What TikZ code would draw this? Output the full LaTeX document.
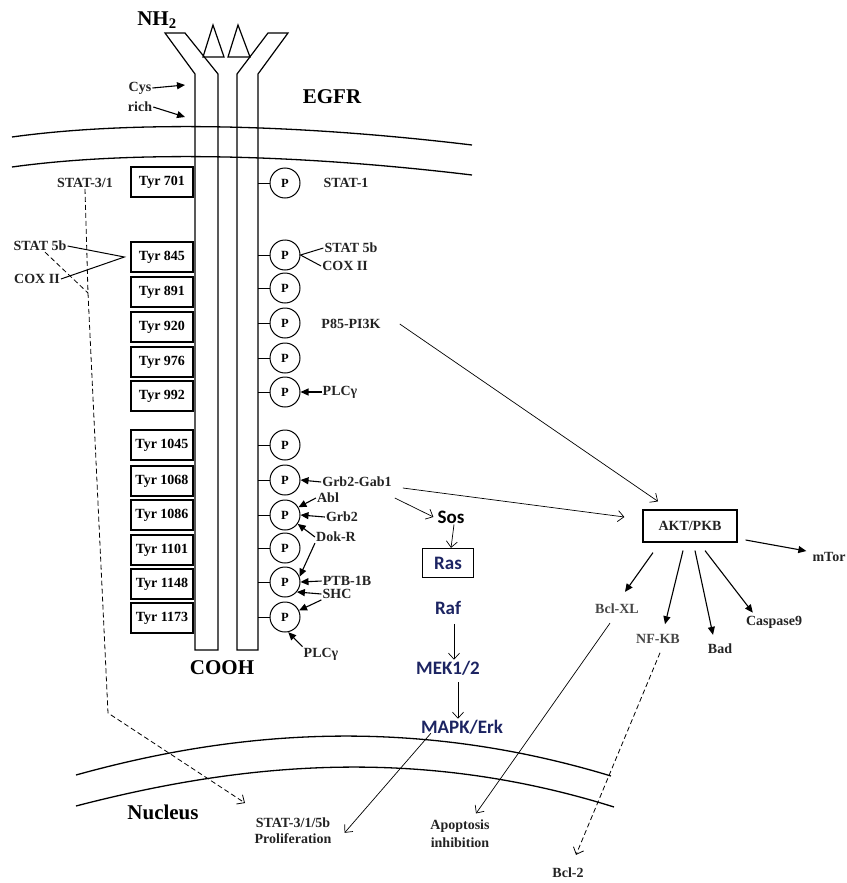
\documentclass[tikz,border=0pt]{standalone}
\usepackage{fontspec}
\setmainfont{Liberation Serif}
\newfontfamily\calfont{Carlito}
\usetikzlibrary{arrows.meta}
\definecolor{navyblue}{RGB}{28,36,98}
\definecolor{lblgray}{RGB}{35,35,35}
\definecolor{softgray}{RGB}{70,70,70}

\begin{document}
\begin{tikzpicture}[x=1pt, y=-1pt,
    lbl/.style={font=\bfseries\fontsize{14}{15}\selectfont, text=lblgray, inner sep=1pt},
    biglbl/.style={font=\bfseries\fontsize{21}{24}\selectfont, inner sep=1pt},
    tyrbox/.style={draw, line width=1.2pt, minimum width=62pt, minimum height=30pt, inner sep=0pt,
        font=\bfseries\fontsize{14}{15}\selectfont},
    pcirc/.style={draw, circle, line width=1pt, minimum size=30pt, inner sep=0pt,
        font=\bfseries\fontsize{12.5}{14}\selectfont},
    kin/.style={font=\calfont\bfseries\fontsize{19}{22}\selectfont, text=navyblue, inner sep=1pt},
    filarr/.style={-{Triangle[length=8pt,width=7pt]}, line width=1.1pt},
    openarr/.style={-{Straight Barb[length=6pt,width=11pt]}, line width=0.7pt},
    dasharr/.style={dash pattern=on 5pt off 3pt, line width=0.8pt, -{Straight Barb[length=6pt,width=11pt]}}]
        \useasboundingbox (0,0) rectangle (846,883);
        % receptor
        \draw[line width=1.2pt] (195,650) -- (195,74) -- (165,33) -- (185,33) -- (218,74) -- (218,650) -- cycle;
        \draw[line width=1.2pt] (237,650) -- (237,74) -- (268,33) -- (288,33) -- (258,74) -- (258,650) -- cycle;
        \draw[line width=1.2pt] (213,25) -- (203,57) -- (224,57) -- cycle;
        \draw[line width=1.2pt] (238,25) -- (228,57) -- (250,57) -- cycle;
        % membranes
        \draw[line width=1.3pt] (12,137) .. controls (120,122) and (280,122) .. (472,145);
        \draw[line width=1.3pt] (12,167) .. controls (120,152) and (280,152) .. (472,175);
        \draw[line width=1.3pt] (76,775) .. controls (220,735) and (400,712) .. (611,776);
        \draw[line width=1.3pt] (76,806) .. controls (230,766) and (410,743) .. (614,807);
        % titles
        \node[biglbl] (nh) at (157,20) {NH\textsubscript{2}};
        \node[biglbl] (egfr) at (332,97) {EGFR};
        \node[biglbl] (cooh) at (222,668) {COOH};
        \node[biglbl] (nucleus) at (163,812) {Nucleus};
        \node[lbl] (cys) at (140,88) {Cys};
        \node[lbl] (rich) at (140,107) {rich};
        \coordinate (cysA) at (185,85);
        \coordinate (cysB) at (185,117);
        \draw[filarr] (cys.east) -- (cysA);
        \draw[filarr] (rich.east) -- (cysB);
        % tyrosine sites
        \node[tyrbox] (t701) at (162,182) {Tyr 701};
        \node[tyrbox] (t845) at (162,257) {Tyr 845};
        \node[tyrbox] (t891) at (162,292) {Tyr 891};
        \node[tyrbox] (t920) at (162,327) {Tyr 920};
        \node[tyrbox] (t976) at (162,362) {Tyr 976};
        \node[tyrbox] (t992) at (162,396) {Tyr 992};
        \node[tyrbox] (t1045) at (162,445) {Tyr 1045};
        \node[tyrbox] (t1068) at (162,481) {Tyr 1068};
        \node[tyrbox] (t1086) at (162,515) {Tyr 1086};
        \node[tyrbox] (t1101) at (162,550) {Tyr 1101};
        \node[tyrbox] (t1148) at (162,584) {Tyr 1148};
        \node[tyrbox] (t1173) at (162,618) {Tyr 1173};
        % phosphates
        \node[pcirc] (p701) at (285,183) {P};
        \node[pcirc] (p845) at (285,255) {P};
        \node[pcirc] (p891) at (285,288) {P};
        \node[pcirc] (p920) at (285,323) {P};
        \node[pcirc] (p976) at (285,358) {P};
        \node[pcirc] (p992) at (285,392) {P};
        \node[pcirc] (p1045) at (285,445) {P};
        \node[pcirc] (p1068) at (285,480) {P};
        \node[pcirc] (p1086) at (285,515) {P};
        \node[pcirc] (p1101) at (285,548) {P};
        \node[pcirc] (p1148) at (285,582) {P};
        \node[pcirc] (p1173) at (285,617) {P};
        \draw[line width=1pt] (p701.west) -- ++(-12,0);
        \draw[line width=1pt] (p845.west) -- ++(-12,0);
        \draw[line width=1pt] (p891.west) -- ++(-12,0);
        \draw[line width=1pt] (p920.west) -- ++(-12,0);
        \draw[line width=1pt] (p976.west) -- ++(-12,0);
        \draw[line width=1pt] (p992.west) -- ++(-12,0);
        \draw[line width=1pt] (p1045.west) -- ++(-12,0);
        \draw[line width=1pt] (p1068.west) -- ++(-12,0);
        \draw[line width=1pt] (p1086.west) -- ++(-12,0);
        \draw[line width=1pt] (p1101.west) -- ++(-12,0);
        \draw[line width=1pt] (p1148.west) -- ++(-12,0);
        \draw[line width=1pt] (p1173.west) -- ++(-12,0);
        % left side binders
        \node[lbl] (stat31) at (85,183) {STAT-3/1};
        \node[lbl] (stat5bl) at (40,246) {STAT 5b};
        \node[lbl] (coxl) at (37,279) {COX II};
        \draw[line width=1pt] (stat5bl.east) -- ([xshift=-6pt]t845.west) -- (coxl.east);
        % right side binders
        \node[lbl] (stat1) at (346,183) {STAT-1};
        \node[lbl] (stat5br) at (351,248) {STAT 5b};
        \node[lbl] (coxr) at (345,266) {COX II};
        \node[lbl] (p85) at (351,324) {P85-PI3K};
        \node[lbl] (plcg) at (340,392) {PLCγ};
        \draw[line width=1pt] (stat5br.west) -- (p845.east) -- (coxr.west);
        \draw[filarr] (plcg.west) -- (p992.east);
        \node[lbl] (gab) at (357,482) {Grb2-Gab1};
        \node[lbl] (abl) at (328,498) {Abl};
        \node[lbl] (grb) at (342,517) {Grb2};
        \node[lbl] (dok) at (336,537) {Dok-R};
        \node[lbl] (ptb) at (347,581) {PTB-1B};
        \node[lbl] (shc) at (337,594) {SHC};
        \node[lbl] (plcgb) at (321,654) {PLCγ};
        \draw[filarr] (gab.west) -- (p1068.east);
        \draw[filarr] (abl.west) -- (p1086.30);
        \draw[filarr] (grb.west) -- (p1086.east);
        \draw[filarr] (dok.west) -- (p1086.-35);
        \draw[filarr] (dok.south west) -- (p1148.20);
        \draw[filarr] (ptb.west) -- (p1148.east);
        \draw[filarr] (shc.west) -- (p1148.-40);
        \draw[filarr] (shc.south west) -- (p1173.25);
        \draw[filarr] (plcgb.north west) -- (p1173.-78);
        % STAT route to nucleus
        \node[lbl] (stat315b) at (293,823) {STAT-3/1/5b};
        \node[lbl] (prolif) at (293,839) {Proliferation};
        \coordinate (d1) at (88,293);
        \coordinate (d2) at (108,713);
        \coordinate (d3) at (245,803);
        \draw[dasharr] (stat31.south) -- (d1) -- (d2) -- (d3);
        \draw[dash pattern=on 5pt off 3pt, line width=0.8pt] ([xshift=5pt]stat5bl.south) -- (d1);
        % MAPK cascade
        \node[kin, text=black] (sos) at (451,517) {Sos};
        \node[kin, draw=black, line width=1.2pt, minimum width=51pt, minimum height=29pt, inner sep=0pt] (ras) at (448,563) {Ras};
        \node[kin] (raf) at (448,608) {Raf};
        \node[kin] (mek) at (448,668) {MEK1/2};
        \node[kin] (mapk) at (462,727) {MAPK/Erk};
        \draw[openarr] ([xshift=2pt,yshift=-16pt]gab.east) -- ([xshift=-3pt]sos.west);
        \draw[openarr] ([xshift=3pt]sos.south) -- ([xshift=3pt]ras.north);
        \draw[openarr] ([xshift=6pt,yshift=-8pt]raf.south) -- ([xshift=6pt]mek.north);
        \draw[openarr] ([xshift=10pt,yshift=-6pt]mek.south) -- ([xshift=-4pt]mapk.north);
        \draw[openarr] ([xshift=11pt,yshift=2pt]mapk.south west) -- ([xshift=12pt]prolif.north east);
        % AKT branch
        \node[draw, line width=1.2pt, minimum width=94pt, minimum height=32pt, inner sep=0pt,
            font=\bfseries\fontsize{14}{15}\selectfont, text=lblgray] (akt) at (690,526) {AKT/PKB};
        \draw[openarr] ([xshift=18pt]p85.east) -- ([xshift=-32pt,yshift=8pt]akt.north);
        \draw[openarr] ([xshift=10pt,yshift=-6pt]gab.east) -- ([xshift=-18pt,yshift=9pt]akt.west);
        \node[lbl] (mtor) at (829,557) {mTor};
        \node[lbl, text=softgray] (bclxl) at (617,609) {Bcl-XL};
        \node[lbl, text=softgray] (nfkb) at (658,639) {NF-KB};
        \node[lbl] (bad) at (720,649) {Bad};
        \node[lbl] (casp) at (774,622) {Caspase9};
        \draw[filarr] ([xshift=-37pt,yshift=-10pt]akt.south) -- ([xshift=8pt,yshift=11pt]bclxl.north);
        \draw[filarr] ([xshift=-7pt,yshift=-8pt]akt.south) -- ([xshift=7pt,yshift=9pt]nfkb.north);
        \draw[filarr] ([xshift=5pt,yshift=-8pt]akt.south) -- ([xshift=-7pt,yshift=8pt]bad.north);
        \draw[filarr] ([xshift=15pt,yshift=-8pt]akt.south) -- ([xshift=8pt,yshift=2pt]casp.north west);
        \draw[filarr] ([xshift=8pt,yshift=-14pt]akt.east) -- ([xshift=-5pt,yshift=6pt]mtor.west);
        % outcomes
        \node[lbl] (apop) at (460,826) {Apoptosis};
        \node[lbl] (inhib) at (460,843) {inhibition};
        \node[lbl] (bcl2) at (568,873) {Bcl-2};
        \draw[openarr] ([xshift=-7pt,yshift=-8pt]bclxl.south) -- ([xshift=16pt,yshift=5pt]apop.north);
        \draw[dasharr] ([xshift=2pt,yshift=-8pt]nfkb.south) -- ([xshift=8pt,yshift=12pt]bcl2.north);
\end{tikzpicture}
\end{document}
